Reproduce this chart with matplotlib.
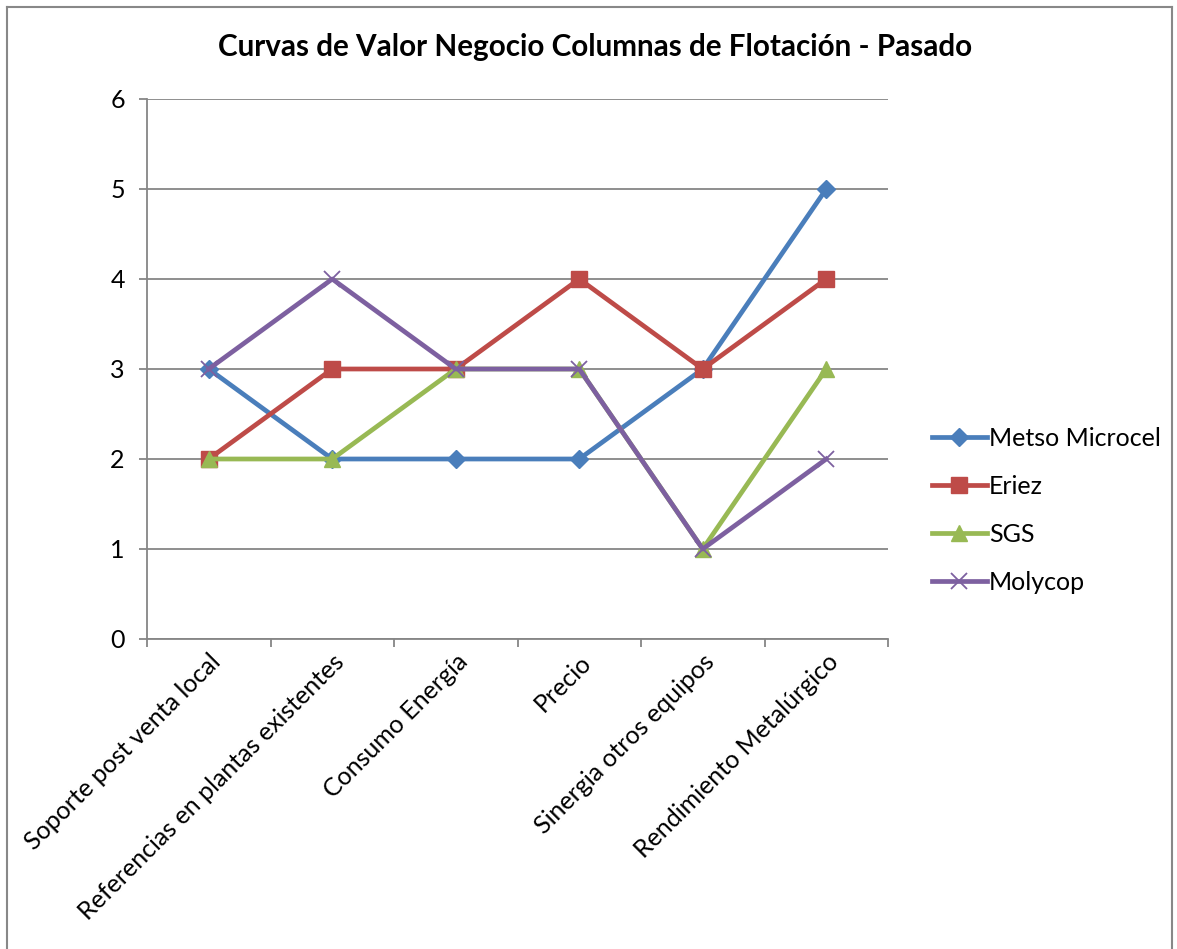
import matplotlib
matplotlib.use("Agg")
import matplotlib.pyplot as plt
from matplotlib.lines import Line2D

plt.rcParams['font.family'] = ['Lato', 'DejaVu Sans']

categories = ["Soporte post venta local", "Referencias en plantas existentes",
              "Consumo Energía", "Precio", "Sinergia otros equipos",
              "Rendimiento Metalúrgico"]
metso = [3, 2, 2, 2, 3, 5]
eriez = [2, 3, 3, 4, 3, 4]
sgs = [2, 2, 3, 3, 1, 3]
molycop = [3, 4, 3, 3, 1, 2]
series_names = ["Metso Microcel", "Eriez", "SGS", "Molycop"]
title = "Curvas de Valor Negocio Columnas de Flotación - Pasado"

W, H = 1177, 949
fig = plt.figure(figsize=(W / 100, H / 100), dpi=100)
ax = fig.add_axes([147 / W, 1 - 639 / H, (888 - 147) / W, (639 - 99) / H])

x = list(range(len(categories)))
styles = [
    (metso, "#4A7EBB", "D", 9.5, dict()),
    (eriez, "#BE4B48", "s", 11, dict()),
    (sgs, "#98B954", "^", 11.5, dict()),
    (molycop, "#7D60A0", "x", 11.5, dict(markeredgewidth=1.3)),
]
for (vals, col, mk, ms, extra), name in zip(styles, series_names):
    ax.plot(x, vals, color=col, lw=3.4, marker=mk, markersize=ms,
            markerfacecolor=col, markeredgecolor=col, label=name, zorder=3,
            **extra)

ax.set_xlim(-0.5, len(categories) - 0.5)
ax.set_ylim(0, 6)
ax.set_yticks(range(0, 7))
ax.yaxis.grid(True, color="#868686", lw=1.3)
ax.set_axisbelow(True)
for s in ["top", "right"]:
    ax.spines[s].set_visible(False)
for s in ["left", "bottom"]:
    ax.spines[s].set_color("#868686")
    ax.spines[s].set_linewidth(1.3)

ax.set_xticks([i - 0.5 for i in range(len(categories) + 1)])
ax.set_xticklabels([])
ax.set_xticks(x, minor=True)
ax.set_xticklabels(categories, minor=True, rotation=45, ha="right",
                   rotation_mode="anchor", fontsize=18)
ax.tick_params(axis="x", which="major", length=6, width=1.3, color="#868686", direction="out")
ax.tick_params(axis="x", which="minor", length=0, pad=8)
ax.tick_params(axis="y", length=6, width=1.3, color="#868686", labelsize=18, pad=10)

fig.text(595 / W, 1 - 47 / H, title, ha="center", va="center",
         fontsize=21.3, fontweight="bold")

leg = fig.legend(loc="center left", bbox_to_anchor=(909 / W, 1 - 510 / H),
                 frameon=False, fontsize=18, handlelength=2.2,
                 handletextpad=0.1, labelspacing=1.0)

# outer border
fig.add_artist(Line2D([6.5 / W, 6.5 / W], [0, 1 - 6.5 / H], transform=fig.transFigure, color="#888888", lw=1.5))
fig.add_artist(Line2D([6.5 / W, 1172 / W], [1 - 6.5 / H, 1 - 6.5 / H], transform=fig.transFigure, color="#888888", lw=1.5))
fig.add_artist(Line2D([1172 / W, 1172 / W], [0, 1 - 6.5 / H], transform=fig.transFigure, color="#888888", lw=1.5))

fig.savefig("out.png", dpi=100)
